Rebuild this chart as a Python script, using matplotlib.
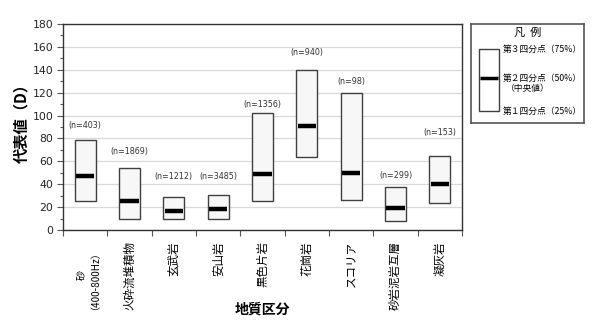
import matplotlib
matplotlib.use("Agg")
import matplotlib.pyplot as plt
from matplotlib.patches import Rectangle
from matplotlib.ticker import MultipleLocator

plt.rcParams['font.family'] = ['Noto Sans CJK JP', 'DejaVu Sans']

categories = ['砂\n（400-800Hz）', '火砕流堆積物', '玄武岩', '安山岩', '黒色片岩',
              '花崗岩', 'スコリア', '砂岩泥岩互層', '凝灰岩']
q1 = [25, 10, 10, 10, 25.5, 63.5, 26, 8, 24]
q2 = [47, 25, 17, 18, 49, 91, 50, 19, 40]
q3 = [79, 54, 29, 31, 102, 140, 120, 38, 65]
n_labels = ['(n=403)', '(n=1869)', '(n=1212)', '(n=3485)', '(n=1356)',
            '(n=940)', '(n=98)', '(n=299)', '(n=153)']
n_label_y = [91, 69, 46.5, 47, 110, 155, 130, 48, 85]

fig = plt.figure(figsize=(5.98, 3.36), dpi=100)
W, H = 598, 336
ax = fig.add_axes([63 / W, 1 - 230 / H, (462 - 63) / W, (230 - 24) / H])

box_w = 0.48
edge = '#404040'
for i in range(len(categories)):
    ax.add_patch(Rectangle((i - box_w / 2, q1[i]), box_w, q3[i] - q1[i],
                           facecolor='#f7f7f7', edgecolor=edge, lw=1.0, zorder=3))
    ax.plot([i - box_w / 2 + 0.03, i + box_w / 2 - 0.03], [q2[i], q2[i]],
            color='black', lw=3.2, solid_capstyle='butt', zorder=4)
    ax.text(i, n_label_y[i], n_labels[i], ha='center', va='center',
            fontsize=5.8, color='#333333', family='DejaVu Sans')

ax.set_xlim(-0.5, len(categories) - 0.5)
ax.set_ylim(0, 180)
ax.yaxis.set_major_locator(MultipleLocator(20))
ax.yaxis.set_minor_locator(MultipleLocator(10))
ax.grid(axis='y', which='major', color='#d9d9d9', lw=0.9, zorder=0)
ax.set_axisbelow(True)
ax.tick_params(axis='y', which='major', direction='out', length=4, width=0.8,
               labelsize=7.8, pad=3, color='#555555')
ax.tick_params(axis='y', which='minor', direction='out', length=2.5, width=0.8,
               color='#555555')
for lbl in ax.get_yticklabels():
    lbl.set_family('DejaVu Sans')
    lbl.set_color('#222222')

# category boundaries carry the tick marks, centers carry the labels
ax.set_xticks([i - 0.5 for i in range(len(categories) + 1)])
ax.set_xticklabels([])
ax.tick_params(axis='x', which='major', direction='out', length=4, width=0.8,
               color='#555555')
ax.set_xticks(range(len(categories)), minor=True)
ax.set_xticklabels(categories, minor=True, rotation=90, fontsize=8.3,
                   va='top', ha='center', linespacing=0.9)
ax.get_xticklabels(minor=True)[0].set_fontsize(7.2)
ax.tick_params(axis='x', which='minor', length=0, pad=8)

for s in ax.spines.values():
    s.set_color('#333333')
    s.set_linewidth(1.0)

fig.text(21 / W, 1 - 119 / H, '代表値（D）', rotation=90, ha='center', va='center',
         fontsize=11, fontweight='bold')
fig.text(262 / W, 1 - 310 / H, '地質区分', ha='center', va='center',
         fontsize=10, fontweight='bold')

# legend panel
lax = fig.add_axes([471 / W, 1 - 123 / H, (584 - 471) / W, (123 - 24) / H])
lax.set_xlim(471, 584)
lax.set_ylim(123, 24)
lax.set_xticks([])
lax.set_yticks([])
for s in lax.spines.values():
    s.set_color('#555555')
    s.set_linewidth(1.2)
lax.add_patch(Rectangle((479, 49), 20, 62, facecolor='white', edgecolor=edge, lw=1.0))
lax.plot([480, 498], [78, 78], color='black', lw=2.5, solid_capstyle='butt')
lax.text(528, 32, '凡  例', ha='center', va='center', fontsize=8)
lax.text(503, 49, '第３四分点（75%）', ha='left', va='center', fontsize=6.3)
lax.text(503, 78, '第２四分点（50%）', ha='left', va='center', fontsize=6.3)
lax.text(506, 88, '（中央値）', ha='left', va='center', fontsize=6.3)
lax.text(503, 111, '第１四分点（25%）', ha='left', va='center', fontsize=6.3)

fig.savefig('out.png', dpi=100)
